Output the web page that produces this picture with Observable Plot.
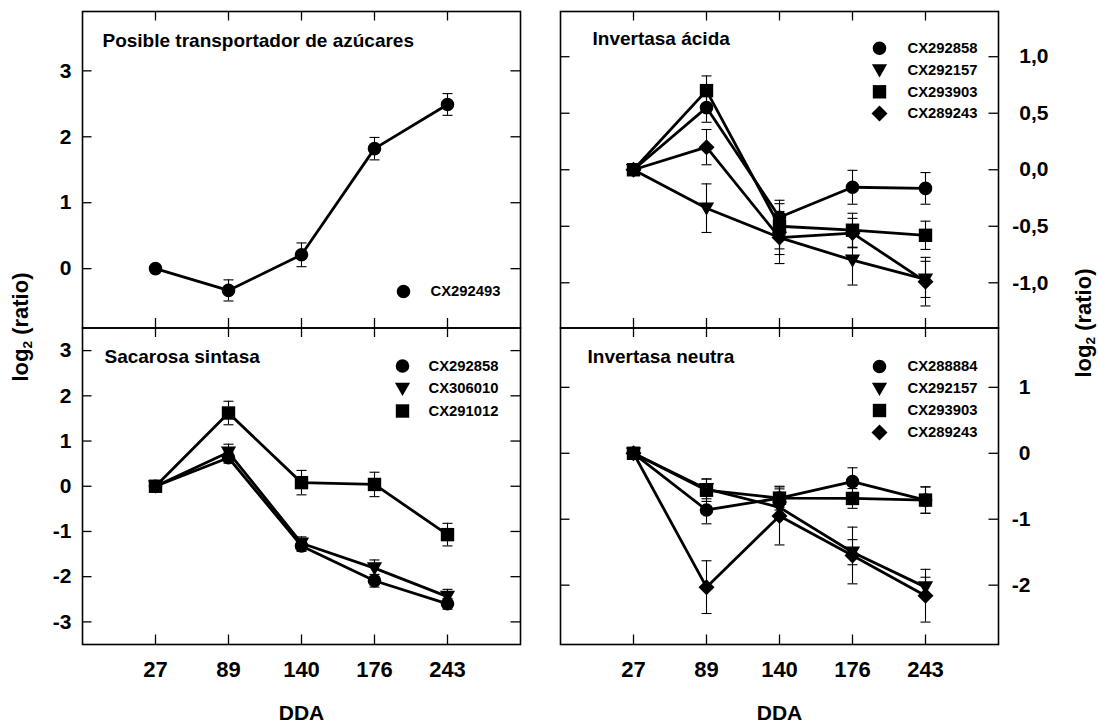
<!DOCTYPE html>
<html><head><meta charset="utf-8">
<script src="https://cdn.jsdelivr.net/npm/d3@7"></script>
<script src="https://cdn.jsdelivr.net/npm/@observablehq/plot@0.6"></script>
<style>
body{margin:0;background:#fff;}
#chart{position:relative;width:1098px;height:723px;font-family:"Liberation Sans",Arial,sans-serif;overflow:hidden;}
#chart svg{position:absolute;left:0;top:0;}
.ytitle{position:absolute;font-weight:bold;font-size:22px;white-space:nowrap;transform:translate(-50%,-50%) rotate(-90deg);line-height:1;}
.ytitle span{font-size:0.62em;vertical-align:-0.3em;}
</style></head><body><div id="chart"></div>
<script>
// ---- data ----
const dda = ["27", "89", "140", "176", "243"];
const ddaPos = [1, 2, 3, 4, 5];

// Panel A: Posible transportador de azúcares
const titleA = "Posible transportador de azúcares";
const namesA = ["CX292493"];
const A_CX292493 = [0, -0.33, 0.21, 1.82, 2.49];
const A_CX292493_err = [0, 0.16, 0.18, 0.17, 0.165];
const yTicksA = [0, 1, 2, 3];
const yLabelsA = ["0", "1", "2", "3"];

// Panel B: Invertasa ácida
const titleB = "Invertasa ácida";
const namesB = ["CX292858", "CX292157", "CX293903", "CX289243"];
const B_CX292858 = [0, 0.55, -0.42, -0.155, -0.165];
const B_CX292858_err = [0, 0.13, 0.15, 0.15, 0.14];
const B_CX292157 = [0, -0.34, -0.60, -0.80, -0.97];
const B_CX292157_err = [0, 0.215, 0.23, 0.22, 0.16];
const B_CX293903 = [0, 0.70, -0.50, -0.535, -0.58];
const B_CX293903_err = [0, 0.13, 0.20, 0.15, 0.125];
const B_CX289243 = [0, 0.20, -0.60, -0.56, -0.99];
const B_CX289243_err = [0, 0.156, 0.15, 0.13, 0.215];
const yTicksB = [-1, -0.5, 0, 0.5, 1];
const yLabelsB = ["-1,0", "-0,5", "0,0", "0,5", "1,0"];

// Panel C: Sacarosa sintasa
const titleC = "Sacarosa sintasa";
const namesC = ["CX292858", "CX306010", "CX291012"];
const C_CX292858 = [0, 0.63, -1.32, -2.09, -2.60];
const C_CX292858_err = [0, 0.12, 0.12, 0.14, 0.12];
const C_CX306010 = [0, 0.75, -1.26, -1.81, -2.44];
const C_CX306010_err = [0, 0.18, 0.14, 0.18, 0.16];
const C_CX291012 = [0, 1.62, 0.08, 0.04, -1.07];
const C_CX291012_err = [0, 0.26, 0.27, 0.27, 0.25];
const yTicksC = [-3, -2, -1, 0, 1, 2, 3];
const yLabelsC = ["-3", "-2", "-1", "0", "1", "2", "3"];

// Panel D: Invertasa neutra
const titleD = "Invertasa neutra";
const namesD = ["CX288884", "CX292157", "CX293903", "CX289243"];
const D_CX288884 = [0, -0.86, -0.68, -0.43, -0.71];
const D_CX288884_err = [0, 0.21, 0.14, 0.21, 0.20];
const D_CX292157 = [0, -0.54, -0.82, -1.50, -2.03];
const D_CX292157_err = [0, 0.15, 0.15, 0.19, 0.15];
const D_CX293903 = [0, -0.56, -0.68, -0.685, -0.71];
const D_CX293903_err = [0, 0.17, 0.18, 0.15, 0.20];
const D_CX289243 = [0, -2.03, -0.95, -1.55, -2.16];
const D_CX289243_err = [0, 0.40, 0.44, 0.43, 0.40];
const yTicksD = [-2, -1, 0, 1];
const yLabelsD = ["-2", "-1", "0", "1"];

const shapeOrder = ["circle", "triangleDown", "square", "diamond"];

// ---- symbols ----
const SYM = {
  circle: {draw(c) { c.moveTo(6.8, 0); c.arc(0, 0, 6.8, 0, 2 * Math.PI); c.closePath(); }},
  square: {draw(c) { c.moveTo(-6.7, -6.7); c.lineTo(6.7, -6.7); c.lineTo(6.7, 6.7); c.lineTo(-6.7, 6.7); c.closePath(); }},
  triangleDown: {draw(c) { c.moveTo(-7.6, -5.8); c.lineTo(7.6, -5.8); c.lineTo(0, 7.6); c.closePath(); }},
  diamond: {draw(c) { c.moveTo(0, -8); c.lineTo(8, 0); c.lineTo(0, 8); c.lineTo(-8, 0); c.closePath(); }}
};
const CAP = {draw(c) { c.moveTo(-5, 0); c.lineTo(5, 0); }};

const W = 1098, H = 723, TICK = 9.5;
const FONT = "'Liberation Sans', Arial, Helvetica, sans-serif";

function panel(cfg) {
  const rows = [];
  cfg.series.forEach((s, si) => {
    s.values.forEach((v, i) => rows.push({series: s.name, shape: shapeOrder[si], x: ddaPos[i], y: v, e: s.err[i]}));
  });
  const errRows = rows.filter(d => d.e > 0);
  const fw = cfg.right - cfg.left, fh = cfg.bottom - cfg.top;
  const marks = [
    // inward ticks on all four sides
    Plot.ruleX(ddaPos, {x: d => d, insetBottom: fh - TICK, stroke: "black", strokeWidth: 1.3}),
    Plot.ruleX(ddaPos, {x: d => d, insetTop: fh - TICK, stroke: "black", strokeWidth: 1.3}),
    Plot.ruleY(cfg.yTicks, {y: d => d, insetRight: fw - TICK, stroke: "black", strokeWidth: 1.3}),
    Plot.ruleY(cfg.yTicks, {y: d => d, insetLeft: fw - TICK, stroke: "black", strokeWidth: 1.3}),
    // error bars
    Plot.ruleX(errRows, {x: "x", y1: d => d.y - d.e, y2: d => d.y + d.e, stroke: "black", strokeWidth: 1.1}),
    Plot.dot(errRows, {x: "x", y: d => d.y - d.e, symbol: CAP, fill: "none", stroke: "black", strokeWidth: 1.1}),
    Plot.dot(errRows, {x: "x", y: d => d.y + d.e, symbol: CAP, fill: "none", stroke: "black", strokeWidth: 1.1}),
    // lines
    Plot.line(rows, {x: "x", y: "y", z: "series", stroke: "black", strokeWidth: 2.8, strokeLinejoin: "round"}),
  ];
  cfg.series.forEach((s, si) => {
    marks.push(Plot.dot(rows.filter(d => d.series === s.name), {x: "x", y: "y", symbol: SYM[shapeOrder[si]], fill: "black", stroke: "none"}));
  });
  marks.push(Plot.frame({stroke: "black", strokeWidth: 1.6}));
  // title
  marks.push(Plot.text([cfg.title], {frameAnchor: "top-left", lineAnchor: "middle", dx: cfg.titleDx, dy: cfg.titleDy, textAnchor: "start", fontSize: 19, fontWeight: "bold", fill: "black"}));
  // legend
  cfg.series.forEach((s, si) => {
    const dy = cfg.legend.dy0 + si * cfg.legend.step;
    marks.push(Plot.dot([s.name], {frameAnchor: "top-right", dx: cfg.legend.markerDx, dy, symbol: SYM[shapeOrder[si]], fill: "black", stroke: "none"}));
    marks.push(Plot.text([s.name], {frameAnchor: "top-right", lineAnchor: "middle", dx: cfg.legend.labelDx, dy, textAnchor: "start", fontSize: 14.8, fontWeight: "bold", fill: "black"}));
  });
  // y axis labels
  marks.push(Plot.axisY(cfg.yTicks, {anchor: cfg.side, tickSize: 0, tickPadding: cfg.pad, textAnchor: "end",
    tickFormat: d => cfg.yLabels[cfg.yTicks.indexOf(d)], fontSize: 21, fontWeight: "bold", fill: "black", label: null}));
  if (cfg.bottomAxis) {
    marks.push(Plot.axisX(ddaPos, {anchor: "bottom", tickSize: 0, tickPadding: 17,
      tickFormat: d => dda[ddaPos.indexOf(d)], fontSize: 22, fontWeight: "bold", fill: "black", label: null}));
    marks.push(Plot.text(["DDA"], {frameAnchor: "bottom", lineAnchor: "middle", dy: 69, fontSize: 21, fontWeight: "bold", fill: "black"}));
  }
  return Plot.plot({
    width: W, height: H,
    marginLeft: cfg.left, marginRight: W - cfg.right, marginTop: cfg.top, marginBottom: H - cfg.bottom,
    x: {domain: [0, 6], axis: null},
    y: {domain: cfg.yDomain, axis: null},
    style: {fontFamily: FONT, background: "transparent", overflow: "visible", color: "black"},
    marks
  });
}

const panels = [
  {title: titleA, titleDx: 20, titleDy: 29, left: 82, right: 520, top: 11, bottom: 327.5,
   yDomain: [-0.9, 3.9], yTicks: yTicksA, yLabels: yLabelsA, side: "left", pad: 11,
   series: [{name: namesA[0], values: A_CX292493, err: A_CX292493_err}],
   legend: {markerDx: -117, labelDx: -90, dy0: 280, step: 0}},
  {title: titleB, titleDx: 32, titleDy: 27.5, left: 560, right: 998, top: 11, bottom: 327.5,
   yDomain: [-1.4, 1.4], yTicks: yTicksB, yLabels: yLabelsB, side: "right", pad: 50,
   series: [
     {name: namesB[0], values: B_CX292858, err: B_CX292858_err},
     {name: namesB[1], values: B_CX292157, err: B_CX292157_err},
     {name: namesB[2], values: B_CX293903, err: B_CX293903_err},
     {name: namesB[3], values: B_CX289243, err: B_CX289243_err}],
   legend: {markerDx: -119, labelDx: -91, dy0: 36.7, step: 21.8}},
  {title: titleC, titleDx: 22, titleDy: 29, left: 82, right: 520, top: 327.5, bottom: 644, bottomAxis: true,
   yDomain: [-3.5, 3.5], yTicks: yTicksC, yLabels: yLabelsC, side: "left", pad: 11,
   series: [
     {name: namesC[0], values: C_CX292858, err: C_CX292858_err},
     {name: namesC[1], values: C_CX306010, err: C_CX306010_err},
     {name: namesC[2], values: C_CX291012, err: C_CX291012_err}],
   legend: {markerDx: -118, labelDx: -92, dy0: 38, step: 22.5}},
  {title: titleD, titleDx: 27, titleDy: 29, left: 560, right: 998, top: 327.5, bottom: 644, bottomAxis: true,
   yDomain: [-2.9, 1.9], yTicks: yTicksD, yLabels: yLabelsD, side: "right", pad: 32,
   series: [
     {name: namesD[0], values: D_CX288884, err: D_CX288884_err},
     {name: namesD[1], values: D_CX292157, err: D_CX292157_err},
     {name: namesD[2], values: D_CX293903, err: D_CX293903_err},
     {name: namesD[3], values: D_CX289243, err: D_CX289243_err}],
   legend: {markerDx: -119, labelDx: -91, dy0: 38.5, step: 22}}
];

const chart = document.getElementById("chart");
for (const p of panels) chart.appendChild(panel(p));

for (const [x, y] of [[22, 327], [1085, 323]]) {
  const t = document.createElement("div");
  t.className = "ytitle";
  t.style.left = x + "px";
  t.style.top = y + "px";
  t.innerHTML = "log<span>2</span> (ratio)";
  chart.appendChild(t);
}
</script></body></html>
